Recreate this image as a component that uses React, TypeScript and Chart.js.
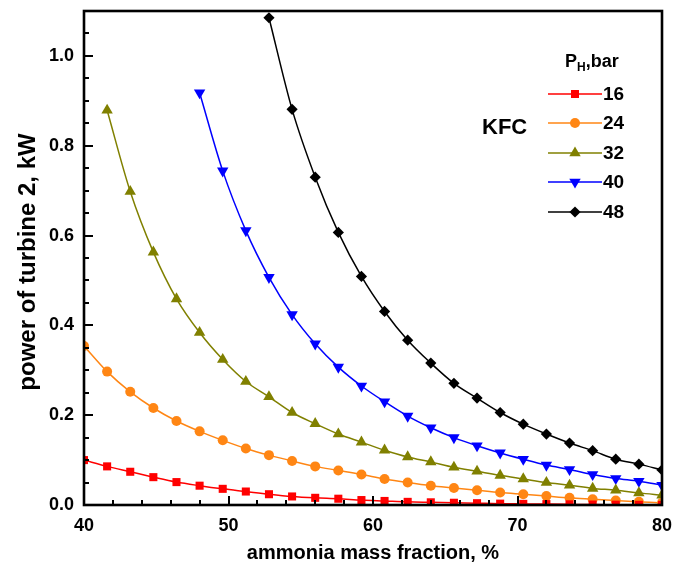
import React, { useEffect, useRef } from "react";
import { Chart, registerables } from "chart.js";

Chart.register(...registerables);

const xValues = [40, 41.6, 43.2, 44.8, 46.4, 48, 49.6, 51.2, 52.8, 54.4, 56, 57.6, 59.2, 60.8, 62.4, 64, 65.6, 67.2, 68.8, 70.4, 72, 73.6, 75.2, 76.8, 78.4, 80];

const p16 = [0.100, 0.086, 0.074, 0.062, 0.051, 0.043, 0.036, 0.030, 0.024, 0.019, 0.016, 0.014, 0.011, 0.009, 0.007, 0.006, 0.005, 0.004, 0.003, 0.0025, 0.002, 0.0015, 0.001, 0.0007, 0.0004, 0.0002];
const p24 = [0.354, 0.297, 0.252, 0.216, 0.187, 0.164, 0.144, 0.126, 0.111, 0.098, 0.086, 0.077, 0.068, 0.058, 0.050, 0.043, 0.038, 0.033, 0.028, 0.024, 0.020, 0.016, 0.013, 0.010, 0.007, 0.005];
const p32 = [null, 0.879, 0.698, 0.563, 0.459, 0.384, 0.324, 0.275, 0.241, 0.206, 0.181, 0.158, 0.140, 0.122, 0.107, 0.096, 0.084, 0.075, 0.066, 0.058, 0.050, 0.044, 0.037, 0.033, 0.027, 0.022];
const p40 = [null, null, null, null, null, 0.918, 0.744, 0.611, 0.507, 0.424, 0.359, 0.307, 0.265, 0.230, 0.198, 0.172, 0.150, 0.132, 0.116, 0.102, 0.089, 0.079, 0.068, 0.059, 0.053, 0.044];
const p48 = [null, null, null, null, null, null, null, null, 1.085, 0.881, 0.730, 0.607, 0.509, 0.431, 0.367, 0.316, 0.271, 0.238, 0.206, 0.180, 0.158, 0.138, 0.121, 0.102, 0.091, 0.078];

const seriesLabels = ["16", "24", "32", "40", "48"];
const seriesData = [p16, p24, p32, p40, p48];
const seriesColors = ["#FF0000", "#FF8614", "#808000", "#0000FF", "#000000"];
const seriesStyles = ["rect", "circle", "triangle", "triangle", "rectRot"];
const seriesRadius = [5.7, 5, 6.6, 6.6, 5.6];
const seriesRotation = [0, 0, 0, 180, 0];

const yTickStep = 0.2;
const FONT = "'Liberation Sans', Arial, Helvetica, sans-serif";
const yTitle = "power of turbine 2, kW";

function drawMarker(ctx: CanvasRenderingContext2D, style: string, x: number, y: number, r: number, rotDeg: number) {
  ctx.beginPath();
  if (style === "rect") {
    const s = Math.SQRT1_2 * r;
    ctx.rect(x - s, y - s, 2 * s, 2 * s);
  } else if (style === "circle") {
    ctx.arc(x, y, r, 0, Math.PI * 2);
  } else if (style === "triangle") {
    let rad = (rotDeg * Math.PI) / 180;
    ctx.moveTo(x + Math.sin(rad) * r, y - Math.cos(rad) * r);
    rad += (2 * Math.PI) / 3;
    ctx.lineTo(x + Math.sin(rad) * r, y - Math.cos(rad) * r);
    rad += (2 * Math.PI) / 3;
    ctx.lineTo(x + Math.sin(rad) * r, y - Math.cos(rad) * r);
    ctx.closePath();
  } else if (style === "rectRot") {
    ctx.moveTo(x, y - r);
    ctx.lineTo(x + r, y);
    ctx.lineTo(x, y + r);
    ctx.lineTo(x - r, y);
    ctx.closePath();
  }
  ctx.fill();
}

const framePlugin = {
  id: "framePlugin",
  afterDatasetsDraw(chart: any) {
    const ctx = chart.ctx as CanvasRenderingContext2D;
    const { left, right, top, bottom } = chart.chartArea;
    const xs = chart.scales.x;
    const ys = chart.scales.y;
    ctx.save();
    ctx.strokeStyle = "#000";
    ctx.lineWidth = 2;
    for (let v = 40; v <= 80.001; v += 2) {
      const px = Math.round(xs.getPixelForValue(v));
      const major = Math.abs(v / 10 - Math.round(v / 10)) < 1e-6;
      const len = major ? 9 : 5;
      ctx.beginPath();
      ctx.moveTo(px, bottom);
      ctx.lineTo(px, bottom - len);
      ctx.stroke();
    }
    for (let i = 0; i <= 22; i++) {
      const v = i * 0.05;
      const py = Math.round(ys.getPixelForValue(v));
      const major = i % 4 === 0;
      const len = major ? 9 : 5;
      ctx.beginPath();
      ctx.moveTo(left, py);
      ctx.lineTo(left + len, py);
      ctx.stroke();
    }
    ctx.lineWidth = 2.6;
    ctx.strokeRect(left, top, right - left, bottom - top);
    ctx.restore();
  },
  afterDraw(chart: any) {
    const ctx = chart.ctx as CanvasRenderingContext2D;
    ctx.save();
    ctx.fillStyle = "#000";
    ctx.textBaseline = "middle";
    ctx.textAlign = "left";
    let hx = 565;
    const hy = 62;
    ctx.font = `bold 18px ${FONT}`;
    ctx.fillText("P", hx, hy);
    hx += ctx.measureText("P").width;
    ctx.font = `bold 12px ${FONT}`;
    ctx.fillText("H", hx, hy + 6);
    hx += ctx.measureText("H").width;
    ctx.font = `bold 18px ${FONT}`;
    ctx.fillText(",bar", hx, hy);

    ctx.font = `bold 22px ${FONT}`;
    ctx.fillText("KFC", 482, 128);

    const rowsY = [94, 123, 153, 182, 212];
    for (let i = 0; i < seriesLabels.length; i++) {
      const y = rowsY[i];
      ctx.strokeStyle = seriesColors[i];
      ctx.fillStyle = seriesColors[i];
      ctx.lineWidth = 1.5;
      ctx.beginPath();
      ctx.moveTo(548, y);
      ctx.lineTo(602, y);
      ctx.stroke();
      drawMarker(ctx, seriesStyles[i], 575, y, seriesRadius[i], seriesRotation[i]);
      ctx.fillStyle = "#000";
      ctx.font = `bold 19px ${FONT}`;
      ctx.fillText(seriesLabels[i], 603, y + 1);
    }

    ctx.save();
    ctx.translate(28, 262);
    ctx.rotate(-Math.PI / 2);
    ctx.textAlign = "center";
    ctx.textBaseline = "middle";
    ctx.font = `bold 24px ${FONT}`;
    ctx.fillStyle = "#000";
    ctx.fillText(yTitle, 0, 0);
    ctx.restore();

    ctx.restore();
  },
};

export default function App() {
  const canvasRef = useRef<HTMLCanvasElement | null>(null);

  useEffect(() => {
    if (!canvasRef.current) return;
    Chart.defaults.font.family = FONT;
    const datasets = seriesData.map((arr, i) => ({
      label: seriesLabels[i],
      data: xValues.map((x, j) => ({ x, y: arr[j] })),
      borderColor: seriesColors[i],
      backgroundColor: seriesColors[i],
      borderWidth: 1.5,
      pointStyle: seriesStyles[i] as any,
      pointRadius: seriesRadius[i],
      pointRotation: seriesRotation[i],
      pointBorderWidth: 0,
      pointHoverRadius: seriesRadius[i],
      tension: 0.4,
      cubicInterpolationMode: "monotone" as const,
      spanGaps: false,
      clip: 0,
    }));

    const chart = new Chart(canvasRef.current, {
      type: "line",
      data: { datasets },
      options: {
        animation: false,
        responsive: true,
        maintainAspectRatio: false,
        layout: { padding: { left: 0, right: 13, top: 11, bottom: 0 } },
        plugins: { legend: { display: false }, tooltip: { enabled: false } },
        scales: {
          x: {
            type: "linear",
            min: 40,
            max: 80,
            grid: { display: false, drawTicks: false },
            border: { display: false },
            ticks: {
              stepSize: 10,
              padding: 10,
              color: "#000",
              font: { size: 18, weight: "bold" },
              maxRotation: 0,
            },
            title: {
              display: true,
              text: "ammonia mass fraction, %",
              color: "#000",
              font: { size: 20, weight: "bold" },
              padding: { top: 0, bottom: 12 },
            },
            afterFit(scale: any) {
              scale.height = 72;
              scale.paddingLeft = 0;
              scale.paddingRight = 0;
            },
          },
          y: {
            type: "linear",
            min: 0,
            max: 1.1,
            grid: { display: false, drawTicks: false },
            border: { display: false },
            ticks: {
              stepSize: yTickStep,
              padding: 10,
              color: "#000",
              font: { size: 18, weight: "bold" },
              callback: (v: any) => Number(v).toFixed(1),
            },
            afterBuildTicks(scale: any) {
              scale.ticks = scale.ticks.filter((t: any) => Math.abs(t.value / yTickStep - Math.round(t.value / yTickStep)) < 1e-6);
            },
            title: { display: false },
            afterFit(scale: any) {
              scale.width = 84;
              scale.paddingTop = 0;
              scale.paddingBottom = 0;
            },
          },
        },
      },
      plugins: [framePlugin],
    });
    return () => chart.destroy();
  }, []);

  return (
    <div style={{ position: "fixed", left: 0, top: 0, width: 675, height: 577, background: "#fff" }}>
      <canvas ref={canvasRef} />
    </div>
  );
}
